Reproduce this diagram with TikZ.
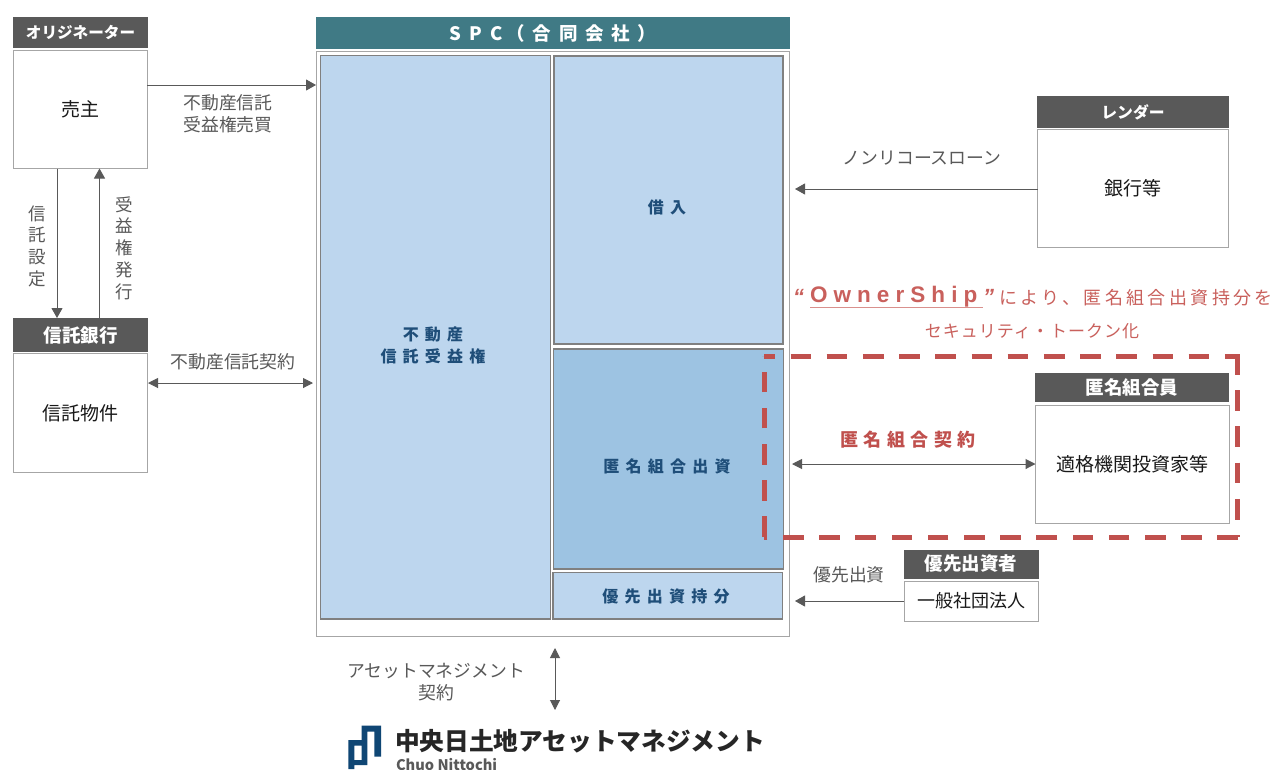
\documentclass[tikz,border=0pt]{standalone}
\usepackage{fontspec}
\usetikzlibrary{arrows.meta}
\setmainfont{Noto Sans CJK JP}
\newfontfamily\lsAb[LetterSpace=39]{Noto Sans CJK JP}
\newfontfamily\lsW[LetterSpace=42]{Noto Sans CJK JP}
\newfontfamily\lsC[LetterSpace=30]{Noto Sans CJK JP}
\newfontfamily\lsR[LetterSpace=19]{Noto Sans CJK JP}
\newfontfamily\lsRb[LetterSpace=6]{Noto Sans CJK JP}
\newfontfamily\lsRo[LetterSpace=27]{Liberation Sans}
\definecolor{hdr}{HTML}{595959}
\definecolor{teal}{HTML}{407A85}
\definecolor{lblue}{HTML}{BDD6EE}
\definecolor{mblue}{HTML}{9DC3E2}
\definecolor{navy}{HTML}{1F4E79}
\definecolor{logob}{HTML}{0F4674}
\definecolor{redd}{HTML}{C0504D}
\definecolor{rtxt}{HTML}{C9605C}
\definecolor{gtxt}{HTML}{595959}
\definecolor{bline}{HTML}{A6A6A6}
\definecolor{arr}{HTML}{595959}
\begin{document}
\begin{tikzpicture}[x=1pt,y=-1pt,
  every node/.style={outer sep=0pt},
  box/.style={draw=bline,line width=1pt,fill=white,anchor=north west,inner sep=0pt,text=black!90,font=\fontsize{19}{20}\selectfont},
  hd/.style={fill=hdr,anchor=north west,inner sep=0pt,text=white,font=\fontsize{18.5}{20}\selectfont\bfseries},
  cell/.style={draw=gray,line width=1.6pt,fill=lblue,anchor=north west,inner sep=0pt},
  celltxt/.style={text=navy,inner sep=0pt,align=center,font=\fontsize{16}{22}\selectfont\lsAb\bfseries},
  lab/.style={text=gtxt,inner sep=0pt,align=center,font=\fontsize{17.8}{22}\selectfont},
  vlab/.style={text=gtxt,inner sep=0pt,align=center,font=\fontsize{17.5}{21.7}\selectfont},
  ar/.style={draw=arr,line width=1pt,-{Triangle[length=10pt,width=11pt]}},
  arb/.style={draw=arr,line width=1pt,{Triangle[length=10pt,width=10pt]}-{Triangle[length=10pt,width=10pt]}},
  dsh/.style={redd,line width=5pt,dash pattern=on 20.7pt off 15.5pt}]
\useasboundingbox (0,0) rectangle (1273,769);
\fill[white] (0,0) rectangle (1273,769);

% left column
\node[hd,minimum width=135pt,minimum height=31pt,font=\fontsize{15.6}{20}\selectfont\bfseries] (h1) at (13,17) {オリジネーター};
\node[box,minimum width=134pt,minimum height=118pt] (b1) at (13,50) {売主};
\node[hd,minimum width=135pt,minimum height=34pt] (h2) at (13,318) {信託銀行};
\node[box,minimum width=134pt,minimum height=119pt] (b2) at (13,353.5) {信託物件};

% SPC
\node[fill=teal,anchor=north west,inner sep=0pt,minimum width=474pt,minimum height=32pt,text=white,font=\fontsize{18.5}{20}\selectfont\lsW\bfseries] (spch) at (316,17) {S\hspace{8pt}P\hspace{8pt}C\hspace{4pt}（合同会社）};
\node[box,minimum width=473pt,minimum height=585pt] (spc) at (316.5,51.5) {};
\node[cell,minimum width=230pt,minimum height=563.5pt] (c1) at (320.5,55.5) {};
\node[cell,minimum width=229pt,minimum height=288pt] (c2) at (553.7,55.7) {};
\node[cell,fill=mblue,minimum width=230pt,minimum height=220pt] (c3) at (553.5,348.7) {};
\node[cell,minimum width=229.5pt,minimum height=46.5pt] (c4) at (553,572.5) {};
\node[celltxt] (t1) at (433,345) {不動産\\信託受益権};
\node[celltxt] (t2) at (667,207) {借入};
\node[celltxt] (t3) at (667,466) {匿名組合出資};
\node[celltxt] (t4) at (666,596) {優先出資持分};

% right column
\node[hd,minimum width=192pt,minimum height=32pt,font=\fontsize{15.8}{20}\selectfont\bfseries] (h3) at (1037,96) {レンダー};
\node[box,minimum width=191pt,minimum height=118pt] (b3) at (1037.5,129.5) {銀行等};
\node[hd,minimum width=194pt,minimum height=29pt] (h4) at (1035,372.5) {匿名組合員};
\node[box,minimum width=194pt,minimum height=118pt] (b4) at (1035.5,405.5) {適格機関投資家等};
\node[hd,minimum width=135pt,minimum height=29pt] (h5) at (903.5,549.5) {優先出資者};
\node[box,minimum width=134pt,minimum height=40pt,font=\fontsize{18}{20}\selectfont] (b5) at (904,581) {一般社団法人};

% connector ends
\coordinate (spcTop) at (316,85);
\coordinate (spcTrust) at (313,383);
\coordinate (spcLoan) at (795,189);
\coordinate (spcEq) at (792,464);
\coordinate (spcPref) at (795,601);
\coordinate (amTop) at (555,648);
\coordinate (amBot) at (555,710);
\coordinate (b2Trust) at (148,383);

\draw[ar] (b1.east|-spcTop) -- (spcTop);
\draw[ar] (57,168.5) -- (57,318);
\draw[ar] (99.5,318) -- (99.5,168.5);
\draw[arb] (b2Trust) -- (spcTrust);
\draw[ar] (b3.west|-spcLoan) -- (spcLoan);
\draw[arb] (spcEq) -- (b4.west|-spcEq);
\draw[ar] (b5.west|-spcPref) -- (spcPref);
\draw[arb] (amTop) -- (amBot);

% connector labels
\node[lab] (l1) at (228,114) {不動産信託\\受益権売買};
\node[vlab] (l2) at (37,246) {信\\託\\設\\定};
\node[vlab] (l3) at (124,248) {受\\益\\権\\発\\行};
\node[lab] (l4) at (233,362) {不動産信託契約};
\node[lab] (l5) at (922,158) {ノンリコースローン};
\node[lab] (l6) at (849,575) {優先出資};
\node[lab] (l7) at (436,682) {アセットマネジメント\\契約};
\node[lab,text=redd,font=\fontsize{18}{20}\selectfont\lsC\bfseries] (l8) at (908,440) {匿名組合契約};

% red text
\node[anchor=west,inner sep=0pt,text=rtxt,font=\fontsize{22}{20}\selectfont\fontspec{Liberation Sans}\bfseries\itshape] (q1) at (793,297) {“};
\node[anchor=west,inner sep=0pt,text=rtxt,font=\fontsize{22.5}{20}\selectfont\lsRo\bfseries] (r0) at (810,297) {OwnerShip};
\node[anchor=west,inner sep=0pt,text=rtxt,font=\fontsize{22}{20}\selectfont\fontspec{Liberation Sans}\bfseries\itshape] (q2) at (983,297) {”};
\draw[rtxt!70,line width=1pt] (810,307.5) -- (983,307.5);
\node[anchor=west,inner sep=0pt,text=rtxt,font=\fontsize{18}{20}\selectfont\lsR] (r1) at (999,298) {により、匿名組合出資持分を};
\node[inner sep=0pt,text=rtxt,font=\fontsize{17}{20}\selectfont\lsRb] (r3) at (1032,331) {セキュリティ・トークン化};

% dashed red frame
\draw[dsh,dash phase=9.7pt] (764,356) -- (1238,356);
\draw[dsh] (1237,354) -- (1237,537);
\draw[dsh] (1238,537) -- (764,537);
\draw[dsh] (764,537) -- (764,356);

% logo
\fill[logob,even odd rule] (348.3,769) -- (348.3,740) -- (361.7,740) -- (361.7,725.7) -- (381,725.7) -- (381,756.7) -- (374.3,756.7) -- (374.3,731.5) -- (367.3,731.5) -- (367.3,765) -- (354.3,765) -- (354.3,769) -- cycle
  (354.3,745.7) -- (361.7,745.7) -- (361.7,760) -- (354.3,760) -- cycle;
\node[anchor=west,inner sep=0pt,text=black!85,font=\fontsize{24.7}{30}\selectfont\bfseries] (logo) at (395,741) {中央日土地アセットマネジメント};
\node[anchor=west,inner sep=0pt,text=hdr,font=\fontsize{14.6}{15}\selectfont\bfseries] (logo2) at (396,764.5) {Chuo Nittochi};
\end{tikzpicture}
\end{document}
